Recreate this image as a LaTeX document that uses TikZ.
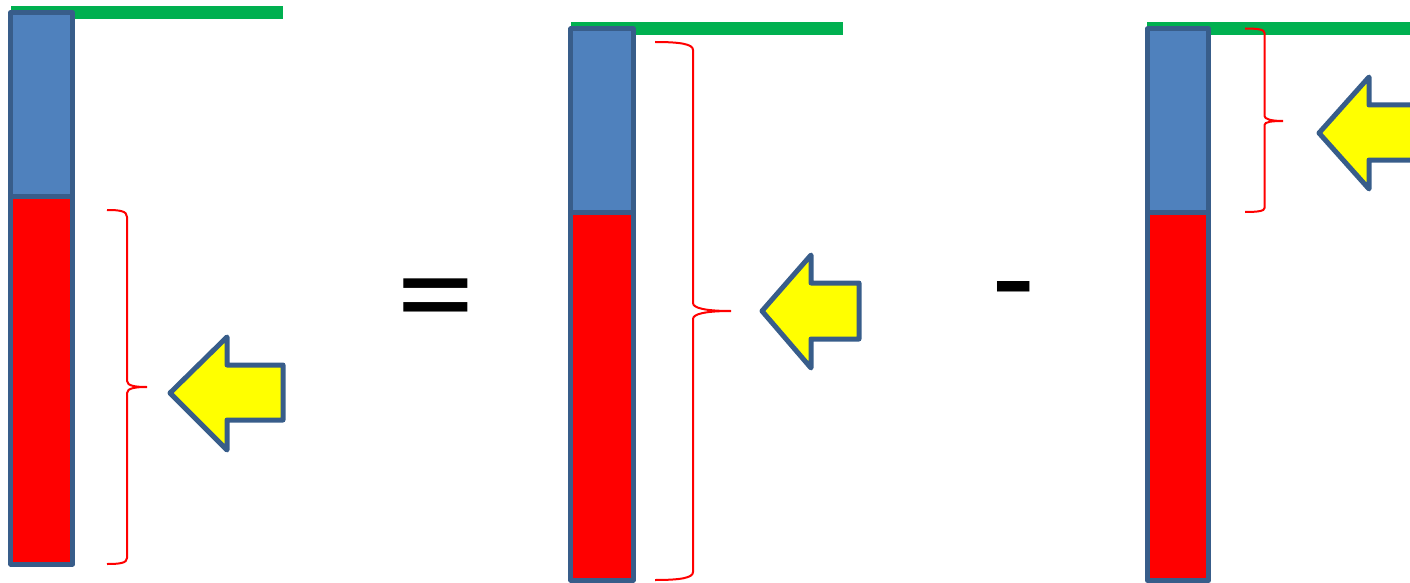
\documentclass[tikz,border=0pt]{standalone}
\usepackage{fontspec}
\setmainfont{Liberation Sans}
\definecolor{barblue}{HTML}{4F81BD}
\definecolor{edgeblue}{HTML}{385D8A}
\definecolor{levelgreen}{HTML}{00B050}
\definecolor{pointeryellow}{HTML}{FFFF00}
\definecolor{bracered}{HTML}{FF0000}
\tikzset{
  level/.style={levelgreen, line width=13pt},
  upper/.style={fill=barblue, draw=edgeblue, line width=5pt, line join=round},
  lower/.style={fill=bracered, draw=edgeblue, line width=5pt, line join=round},
  pointer/.style={fill=pointeryellow, draw=edgeblue, line width=5pt, line join=round},
  brace/.style={bracered, line width=2pt},
  sign/.style={font=\fontsize{133}{133}\selectfont\bfseries, inner sep=0pt, anchor=base}
}
% operator glyphs are set wide and flat
\newcommand{\flatsign}[1]{\scalebox{0.96}[0.66]{#1}}
\begin{document}
\begin{tikzpicture}[x=1pt, y=-1pt]
\useasboundingbox (0,0) rectangle (1410,583);
\clip (0,0) rectangle (1410,583);

% ---- first column: total bar ----
\draw[level] (11,12.5) -- (283,12.5);
\draw[upper] (10.8,12.5) rectangle (72.5,196);
\draw[lower] (10.8,196) rectangle (72.5,564);
\draw[brace] (107,210) .. controls (120,210) and (127,211) .. (127,217)
  -- (127,381) .. controls (127,386) and (136,387) .. (147,387)
  .. controls (136,387) and (127,388) .. (127,393)
  -- (127,558) .. controls (127,563) and (120,564) .. (107,564);
\draw[pointer] (170,393) -- (227,337) -- (227,365) -- (283,365)
  -- (283,420) -- (227,420) -- (227,450) -- cycle;

\node[sign] (eq) at (435.5,324.2) {\flatsign{=}};

% ---- second column ----
\draw[level] (571,28.7) -- (843,28.7);
\draw[upper] (570.7,29) rectangle (633,212.5);
\draw[lower] (570.7,212.5) rectangle (633,580);
\draw[brace] (655,42) .. controls (680,42) and (693,44) .. (693,50)
  -- (693,303) .. controls (693,308) and (705,311) .. (731,311)
  .. controls (705,311) and (693,314) .. (693,319)
  -- (693,572) .. controls (693,578) and (680,580) .. (655,580);
\draw[pointer] (762,311) -- (811,255) -- (811,283) -- (859,283)
  -- (859,339) -- (811,339) -- (811,368) -- cycle;

\node[sign] (minus) at (1013.5,309.8) {\flatsign{-}};

% ---- third column ----
\draw[level] (1147,28.7) -- (1420,28.7);
\draw[upper] (1147.5,29) rectangle (1208.5,212.5);
\draw[lower] (1147.5,212.5) rectangle (1208.5,580.5);
\draw[brace] (1245,28.5) .. controls (1258,28.5) and (1264.5,29.5) .. (1264.5,33)
  -- (1264.5,116) .. controls (1264.5,119) and (1271,121) .. (1283,121)
  .. controls (1271,121) and (1264.5,122) .. (1264.5,125)
  -- (1264.5,208) .. controls (1264.5,211) and (1258,212) .. (1245,212);
\draw[pointer] (1319,133) -- (1369,77) -- (1369,105) -- (1432,105)
  -- (1432,160) -- (1369,160) -- (1369,189) -- cycle;
\end{tikzpicture}
\end{document}
